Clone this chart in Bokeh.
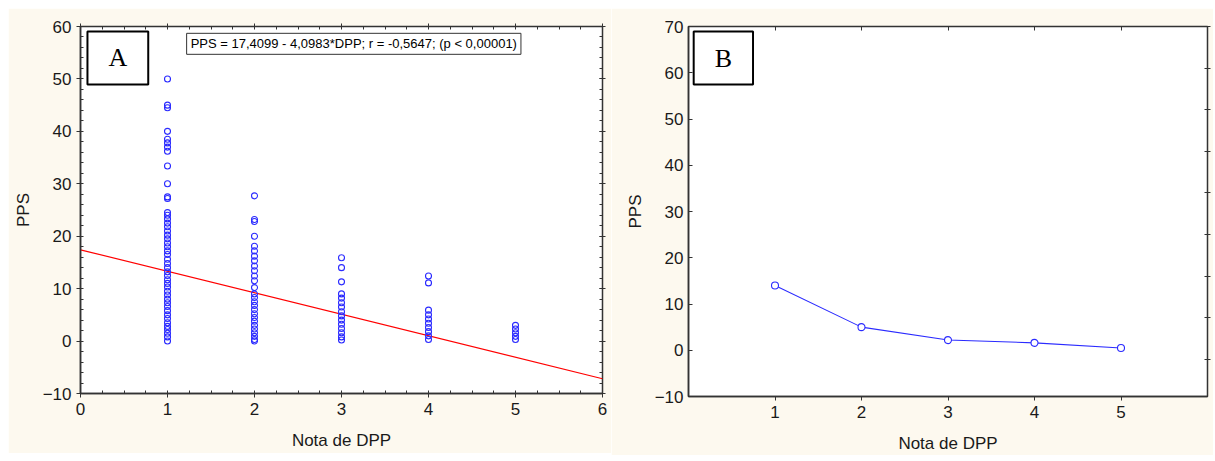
from bokeh.plotting import figure
from bokeh.layouts import row
from bokeh.models import Label, LinearAxis, Range1d, FixedTicker, CustomJSTickFormatter
from bokeh.embed import file_html
from bokeh.resources import INLINE

# ---------------- data ----------------
pps_dpp1 = [50, 45, 44.5, 40, 38.5, 37.8, 37, 36.2, 33.4, 30, 27.5, 27.2, 24.5, 24, 23.3,
            22.5, 21.8, 21, 20.2, 19.5, 18.7, 18, 17.2, 16.5, 15.6, 14.8, 14, 13.2, 12.5,
            11.7, 11, 10.3, 9.5, 8.8, 8, 7.3, 6.6, 5.8, 5, 4.3, 3.5, 2.8, 2.2, 1.5, 0.8, 0]
pps_dpp2 = [27.7, 23.2, 22.8, 20, 18.1, 17.2, 16.2, 15.3, 14.3, 13.4, 12.4, 11.5, 10.2, 9,
            8.3, 7.5, 6.8, 6, 5.2, 4.5, 3.8, 3, 2.3, 1.6, 0.9, 0.3, 0]
pps_dpp3 = [15.9, 14, 11.3, 9, 8.2, 7.3, 6.5, 5.6, 4.8, 4, 3.2, 2.4, 1.6, 0.8, 0.2]
pps_dpp4 = [12.4, 11.1, 5.9, 5, 4.2, 3.4, 2.6, 1.8, 1, 0.3]
pps_dpp5 = [3, 2.3, 1.6, 0.9, 0.3]

intercept = 17.4099
slope = -4.0983
eq_text = "PPS = 17,4099 - 4,0983*DPP; r = -0,5647; (p < 0,00001)"

dpp_levels = [1, 2, 3, 4, 5]
mean_pps = [14.0, 5.0, 2.2, 1.6, 0.5]

x_label = "Nota de DPP"
y_label = "PPS"

# ---------------- style ----------------
CREAM = "#fdf9ef"
FONT = "Liberation Sans"
SERIF = "Liberation Serif"
BLUE = "#2b2bff"
AXC = "#333333"


def base_fig(width, height, fw, fh, ml, mr, mt, mb, xr, yr):
    p = figure(width=width, height=height, x_range=xr, y_range=yr,
               output_backend="svg", toolbar_location=None,
               min_border_left=ml, min_border_right=mr, min_border_top=mt, min_border_bottom=mb,
               background_fill_color="white", border_fill_color=CREAM)
    p.frame_width = fw
    p.frame_height = fh
    p.xgrid.visible = False
    p.ygrid.visible = False
    p.outline_line_color = AXC
    p.outline_line_width = 1.5
    for ax in (p.xaxis[0], p.yaxis[0]):
        ax.axis_line_color = AXC
        ax.axis_line_width = 1.5
        ax.major_tick_line_color = AXC
        ax.minor_tick_line_color = AXC
        ax.major_label_text_font = FONT
        ax.major_label_text_font_size = "17px"
        ax.major_label_text_color = "#1a1a1a"
        ax.axis_label_text_font = FONT
        ax.axis_label_text_font_size = "17px"
        ax.axis_label_text_font_style = "normal"
        ax.axis_label_text_color = "#1a1a1a"
    p.xaxis.axis_label = x_label
    p.yaxis.axis_label = y_label
    p.xaxis.major_label_standoff = 5
    p.yaxis.major_label_standoff = 5
    p.xaxis.axis_label_standoff = 13
    p.yaxis.axis_label_standoff = 7
    return p


def mirror_axis(p, side, ticker, tin, tout, mtin=0, range_name=None):
    kw = {}
    if range_name:
        kw["y_range_name"] = range_name
    ax = LinearAxis(ticker=ticker, axis_line_color=None,
                    major_tick_in=tin, major_tick_out=tout,
                    minor_tick_in=mtin, minor_tick_out=0,
                    major_tick_line_color=AXC, minor_tick_line_color=AXC,
                    formatter=CustomJSTickFormatter(code="return ''"),
                    major_label_standoff=0, **kw)
    p.add_layout(ax, side)
    return ax


# ---------------- panel A ----------------
pA = base_fig(603, 445, 522, 367, 72, 9, 18, 60, Range1d(0, 6), Range1d(-10, 60))
xt_A = FixedTicker(ticks=[0, 1, 2, 3, 4, 5, 6], minor_ticks=[i * 0.25 for i in range(0, 25)])
yt_A = FixedTicker(ticks=list(range(-10, 61, 10)), minor_ticks=list(range(-10, 61, 2)))
pA.xaxis.ticker = xt_A
pA.yaxis.ticker = yt_A
pA.xaxis.major_tick_in = 0
pA.xaxis.major_tick_out = 4
pA.xaxis.minor_tick_in = 3
pA.xaxis.minor_tick_out = 0
pA.yaxis.major_tick_in = 0
pA.yaxis.major_tick_out = 4
pA.yaxis.minor_tick_in = 3
pA.yaxis.minor_tick_out = 0
mirror_axis(pA, "above", FixedTicker(ticks=[0, 1, 2, 3, 4, 5, 6], minor_ticks=[i * 0.25 for i in range(0, 25)]), 0, 3, 3)
mirror_axis(pA, "right", FixedTicker(ticks=list(range(-10, 61, 10)), minor_ticks=list(range(-10, 61, 2))), 3, 3, 3)

# regression line
x_line = [0, 6]
y_line = [intercept + slope * xv for xv in x_line]
pA.line(x_line, y_line, line_color="red", line_width=1.2)

groups = [pps_dpp1, pps_dpp2, pps_dpp3, pps_dpp4, pps_dpp5]
for lvl, vals in zip(dpp_levels, groups):
    pA.scatter([lvl] * len(vals), vals, marker="circle", size=6, fill_color=None,
               line_color=BLUE, line_width=1.1)

pA.add_layout(Label(x=0.08, y=59.05, text="A", anchor="top_left",
                    text_font=SERIF, text_font_size="26px", text_color="black",
                    border_line_color="black", border_line_width=2,
                    background_fill_color="white", padding=(21, 12)))
pA.add_layout(Label(x=1.22, y=58.7, text=eq_text, anchor="top_left",
                    text_font=FONT, text_font_size="13px", text_color="black",
                    border_line_color="#333333", border_line_width=1,
                    background_fill_color="white", padding=(4, 3)))

# ---------------- panel B ----------------
pB = base_fig(602, 445, 519, 370, 77, 6, 18, 57, Range1d(0, 6), Range1d(-10, 70))
pB.xaxis.ticker = FixedTicker(ticks=dpp_levels)
pB.yaxis.ticker = FixedTicker(ticks=list(range(-10, 71, 10)))
pB.xaxis.major_tick_in = 0
pB.xaxis.major_tick_out = 4
pB.yaxis.major_tick_in = 4
pB.yaxis.major_tick_out = 0
pB.xaxis.minor_tick_line_color = None
pB.yaxis.minor_tick_line_color = None
pB.extra_y_ranges = {"r": Range1d(-0.89, 8)}
mirror_axis(pB, "above", FixedTicker(ticks=dpp_levels), 4, 0)
mirror_axis(pB, "right", FixedTicker(ticks=list(range(0, 9))), 3, 3, range_name="r")

pB.line(dpp_levels, mean_pps, line_color=BLUE, line_width=1.1)
pB.scatter(dpp_levels, mean_pps, marker="circle", size=7, fill_color="white",
           line_color=BLUE, line_width=1.1)

pB.add_layout(Label(x=0.06, y=68.9, text="B", anchor="top_left",
                    text_font=SERIF, text_font_size="26px", text_color="black",
                    border_line_color="black", border_line_width=2,
                    background_fill_color="white", padding=(21, 12)))

layout = row(pA, pB)
layout.margin = (8, 0, 0, 8)
open("out.html", "w").write(file_html(layout, INLINE))
